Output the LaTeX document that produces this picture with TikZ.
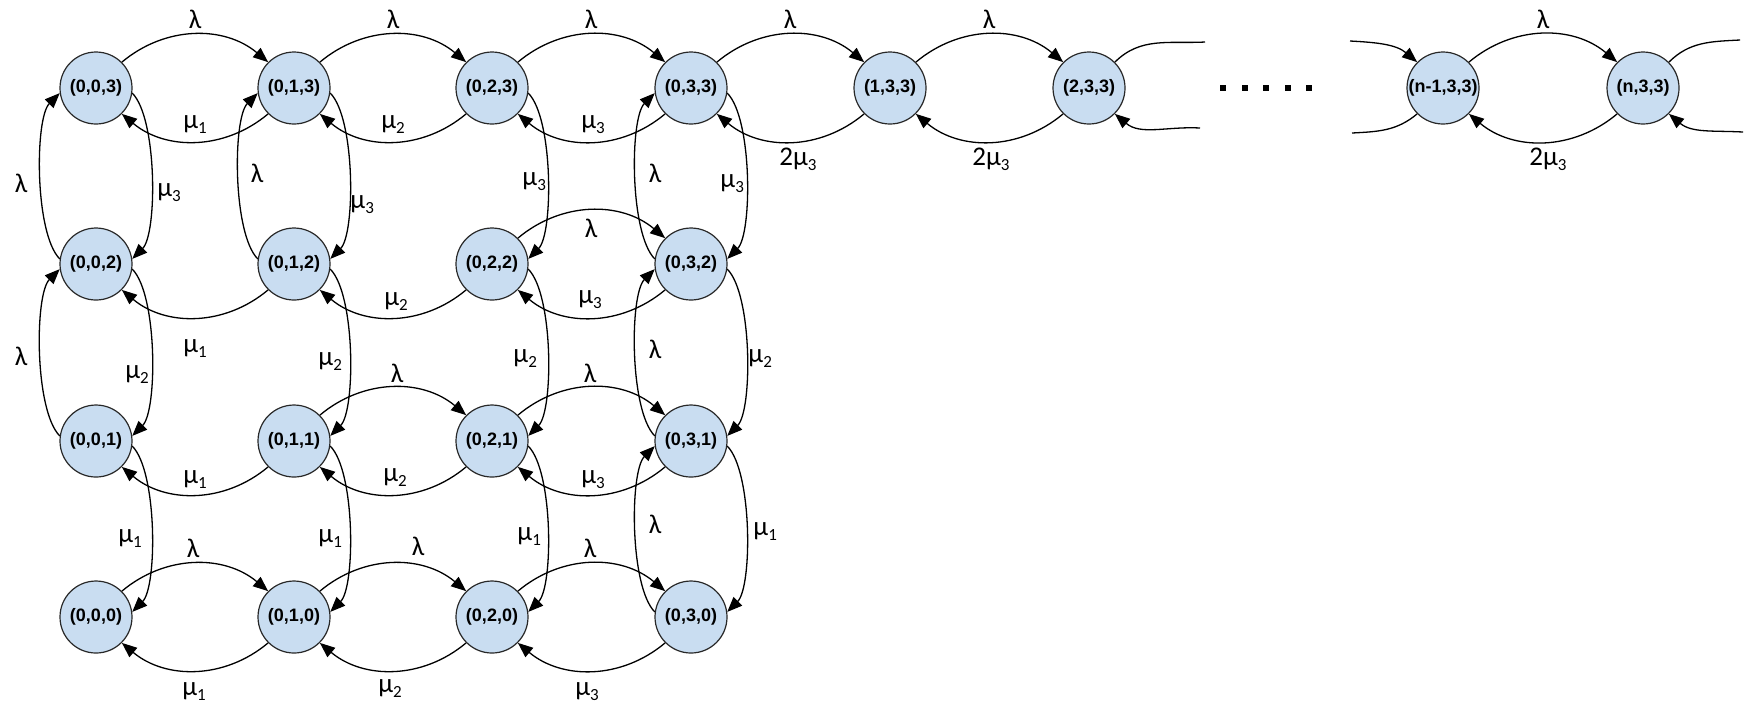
\documentclass[tikz,border=0pt]{standalone}
\usepackage{fontspec}
\setmainfont{Liberation Sans}
\newfontfamily\ratefont{Carlito}
\usetikzlibrary{arrows.meta}

\definecolor{statefill}{RGB}{201,221,241}
\definecolor{stateedge}{RGB}{40,40,40}

% lowered index after a rate symbol
\newcommand\lsub[1]{\raisebox{-2.5pt}{\fontsize{8.5}{9}\selectfont #1}}

\begin{document}
\begin{tikzpicture}[x=0.5pt,y=-0.5pt,
  state/.style={circle, draw=stateedge, line width=0.6pt, fill=statefill,
    minimum size=36pt, inner sep=0pt, font=\fontsize{9}{10}\selectfont\bfseries},
  arr/.style={line width=0.65pt, -{Triangle[length=7.5pt,width=6pt]}},
  stub/.style={line width=0.65pt},
  archi/.style={out=40,in=140},
  arclo/.style={out=220,in=320},
  arcup/.style={out=135,in=225,looseness=0.55},
  arcdn/.style={out=-45,in=45,looseness=0.55},
  lab/.style={font=\ratefont\fontsize{13.5}{15}\selectfont, inner sep=0pt, anchor=base},
  labw/.style={lab, anchor=base west},
  dotmark/.style={rectangle, fill=black, minimum size=3pt, inner sep=0pt}]

\useasboundingbox (0,0) rectangle (1754,709);

% ---- states ----
\foreach \i/\x in {0/96,1/294,2/492,3/691}{
  \foreach \j/\y in {3/88,2/264,1/441,0/617}{
    \node[state] (s0\i\j) at (\x,\y) {(0,\i,\j)};
  }
}
\node[state] (s133) at (890,88) {(1,3,3)};
\node[state] (s233) at (1089,88) {(2,3,3)};
\node[state] (sm33) at (1443,88) {(n-1,3,3)};
\node[state] (sn33) at (1643,88) {(n,3,3)};

% ---- ellipsis ----
\foreach \x [count=\k] in {1223,1245,1266,1288,1309}
  \node[dotmark] (dot\k) at (\x,88) {};

% ---- top row: arrivals (above) and services (below) ----
\draw[arr] (s003.45) to[archi] (s013.135);
\draw[arr] (s013.45) to[archi] (s023.135);
\draw[arr] (s023.45) to[archi] (s033.135);
\draw[arr] (s033.45) to[archi] (s133.135);
\draw[arr] (s133.45) to[archi] (s233.135);
\draw[arr] (sm33.45) to[archi] (sn33.135);

\draw[arr] (s013.225) to[arclo] (s003.315);
\draw[arr] (s023.225) to[arclo] (s013.315);
\draw[arr] (s033.225) to[arclo] (s023.315);
\draw[arr] (s133.225) to[arclo] (s033.315);
\draw[arr] (s233.225) to[arclo] (s133.315);
\draw[arr] (sn33.225) to[arclo] (sm33.315);

% open ends around the ellipsis
\coordinate (oa) at (1205,42);
\coordinate (ob) at (1200,128);
\coordinate (oc) at (1350,41);
\coordinate (od) at (1352,133);
\coordinate (oe) at (1740,40);
\coordinate (of) at (1743,132);
\draw[stub] (s233.45) to[out=45,in=183] (oa);
\draw[arr] (ob) to[out=177,in=320] (s233.315);
\draw[arr] (oc) to[out=-3,in=140] (sm33.135);
\draw[stub] (sm33.225) to[out=220,in=3] (od);
\draw[stub] (sn33.45) to[out=45,in=183] (oe);
\draw[arr] (of) to[out=177,in=320] (sn33.315);

% ---- row 2 ----
\draw[arr] (s022.45) to[archi] (s032.135);
\draw[arr] (s012.225) to[arclo] (s002.315);
\draw[arr] (s022.225) to[arclo] (s012.315);
\draw[arr] (s032.225) to[arclo] (s022.315);

% ---- row 1 ----
\draw[arr] (s011.45) to[archi] (s021.135);
\draw[arr] (s021.45) to[archi] (s031.135);
\draw[arr] (s011.225) to[arclo] (s001.315);
\draw[arr] (s021.225) to[arclo] (s011.315);
\draw[arr] (s031.225) to[arclo] (s021.315);

% ---- row 0 ----
\draw[arr] (s000.45) to[archi] (s010.135);
\draw[arr] (s010.45) to[archi] (s020.135);
\draw[arr] (s020.45) to[archi] (s030.135);
\draw[arr] (s010.225) to[arclo] (s000.315);
\draw[arr] (s020.225) to[arclo] (s010.315);
\draw[arr] (s030.225) to[arclo] (s020.315);

% ---- vertical transitions ----
\draw[arr] (s002.172) to[arcup] (s003.188);
\draw[arr] (s001.172) to[arcup] (s002.188);
\draw[arr] (s003.352) to[arcdn] (s002.8);
\draw[arr] (s002.352) to[arcdn] (s001.8);
\draw[arr] (s001.352) to[arcdn] (s000.8);

\draw[arr] (s012.172) to[arcup] (s013.188);
\draw[arr] (s013.352) to[arcdn] (s012.8);
\draw[arr] (s012.352) to[arcdn] (s011.8);
\draw[arr] (s011.352) to[arcdn] (s010.8);

\draw[arr] (s023.352) to[arcdn] (s022.8);
\draw[arr] (s022.352) to[arcdn] (s021.8);
\draw[arr] (s021.352) to[arcdn] (s020.8);

\draw[arr] (s032.172) to[arcup] (s033.188);
\draw[arr] (s031.172) to[arcup] (s032.188);
\draw[arr] (s030.172) to[arcup] (s031.188);
\draw[arr] (s033.352) to[arcdn] (s032.8);
\draw[arr] (s032.352) to[arcdn] (s031.8);
\draw[arr] (s031.352) to[arcdn] (s030.8);

% ---- rate labels: top row ----
\node[lab] (l1) at (195,28) {λ};
\node[lab] (l2) at (393,28) {λ};
\node[lab] (l3) at (591,28) {λ};
\node[lab] (l4) at (790,28) {λ};
\node[lab] (l5) at (989,28) {λ};
\node[lab] (l6) at (1543,28) {λ};
\node[lab] (m1) at (195,128) {μ\lsub{1}};
\node[lab] (m2) at (393,128) {μ\lsub{2}};
\node[lab] (m3) at (593,128) {μ\lsub{3}};
\node[lab] (m4) at (798,165) {2μ\lsub{3}};
\node[lab] (m5) at (991,165) {2μ\lsub{3}};
\node[lab] (m6) at (1548,165) {2μ\lsub{3}};

% ---- rate labels: row 2 ----
\node[lab] (m7) at (195,352) {μ\lsub{1}};
\node[lab] (m8) at (396,305) {μ\lsub{2}};
\node[lab] (l7) at (591,237) {λ};
\node[lab] (m9) at (590,303) {μ\lsub{3}};

% ---- rate labels: row 1 ----
\node[lab] (m10) at (195,483) {μ\lsub{1}};
\node[lab] (l8) at (397,382) {λ};
\node[lab] (m11) at (395,481) {μ\lsub{2}};
\node[lab] (l9) at (590,382) {λ};
\node[lab] (m12) at (593,483) {μ\lsub{3}};

% ---- rate labels: bottom row ----
\node[lab] (l10) at (193,557) {λ};
\node[lab] (l11) at (418,555) {λ};
\node[lab] (l12) at (590,557) {λ};
\node[lab] (m13) at (194,695) {μ\lsub{1}};
\node[lab] (m14) at (390,692) {μ\lsub{2}};
\node[lab] (m15) at (587,695) {μ\lsub{3}};

% ---- rate labels: columns ----
\node[lab] (v1) at (21,192) {λ};
\node[labw] (v2) at (157,196) {μ\lsub{3}};
\node[lab] (v3) at (21,365) {λ};
\node[labw] (v4) at (125,378) {μ\lsub{2}};
\node[labw] (v5) at (118,542) {μ\lsub{1}};

\node[lab] (v6) at (257,182) {λ};
\node[labw] (v7) at (350,208) {μ\lsub{3}};
\node[labw] (v8) at (318,365) {μ\lsub{2}};
\node[labw] (v9) at (318,542) {μ\lsub{1}};

\node[labw] (v10) at (522,185) {μ\lsub{3}};
\node[labw] (v11) at (513,362) {μ\lsub{2}};
\node[labw] (v12) at (517,540) {μ\lsub{1}};

\node[lab] (v13) at (655,182) {λ};
\node[labw] (v14) at (720,187) {μ\lsub{3}};
\node[lab] (v15) at (655,358) {λ};
\node[labw] (v16) at (748,362) {μ\lsub{2}};
\node[lab] (v17) at (655,533) {λ};
\node[labw] (v18) at (753,535) {μ\lsub{1}};
\end{tikzpicture}
\end{document}
